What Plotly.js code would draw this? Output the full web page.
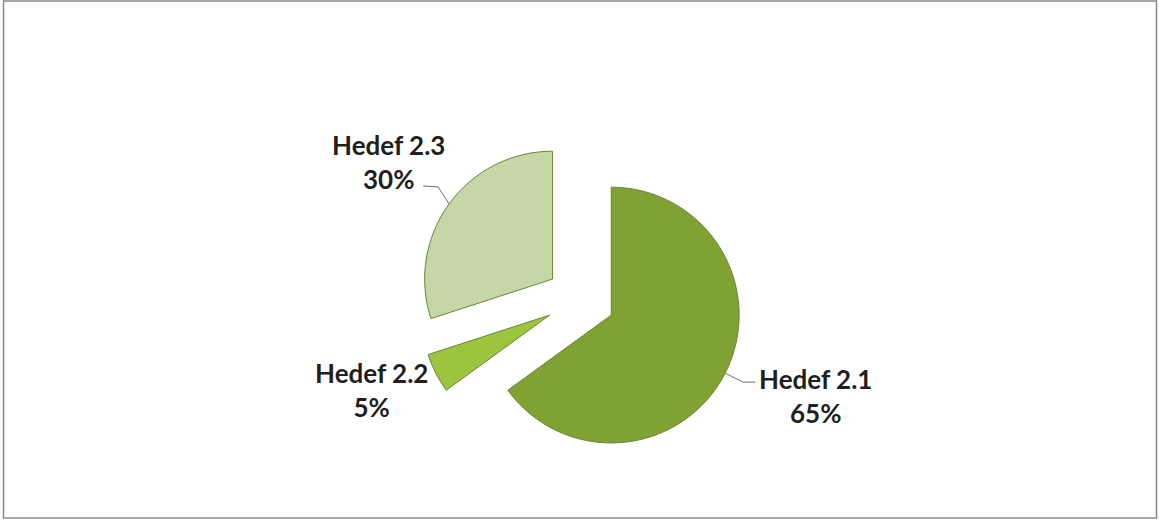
<!DOCTYPE html>
<html>
<head>
<meta charset="utf-8">
<script src="https://cdn.plot.ly/plotly-3.0.1.min.js"></script>
<style>
html,body{margin:0;padding:0;background:#fff;}
#chart{width:1159px;height:522px;}
</style>
</head>
<body>
<div id="chart"></div>
<script>
var labels = ["Hedef 2.1", "Hedef 2.2", "Hedef 2.3"];
var values = [65, 5, 30];
var colors = ["#7fa233", "#9cc43e", "#c5d7a6"];
var pulls = [0.27, 0.27, 0.27];

// label placement style (pixel offsets from each slice's outer-arc midpoint)
var labelStyle = [
  {xanchor: "left",  dx: 32, dy: 23,  leader: [[18, 9], [30, 9]]},
  {xanchor: "right", dx: -6, dy: 17,  leader: null},
  {xanchor: "right", dx: -2, dy: -42, leader: [[-11, -17], [-26, -18]]}
];

var W = 1159, H = 522;
var frame = {
  type: "rect", xref: "paper", yref: "paper",
  x0: 3.5/W, x1: 1156.5/W, y0: 4/H, y1: 521/H,
  line: {color: "#8a8a8a", width: 1.5}
};

var trace = {
  type: "pie",
  labels: labels,
  values: values,
  sort: false,
  direction: "clockwise",
  rotation: 0,
  pull: pulls,
  marker: {colors: colors, line: {color: "#6b8636", width: 1}},
  textinfo: "none",
  hoverinfo: "label+percent",
  showlegend: false,
  domain: {x: [0.3607, 0.641], y: [0.1151, 0.7378]}
};

var layout = {
  width: W,
  height: H,
  margin: {l: 0, r: 0, t: 0, b: 0},
  paper_bgcolor: "#ffffff",
  showlegend: false,
  shapes: [frame]
};

function toPaperPath(x, y, pts) {
  var s = "M" + (x / W) + "," + (1 - y / H);
  pts.forEach(function (o) { s += " L" + ((x + o[0]) / W) + "," + (1 - (y + o[1]) / H); });
  return s;
}

var gd = document.getElementById("chart");
Plotly.newPlot(gd, [trace], layout, {displayModeBar: false, staticPlot: true}).then(function () {
  var cd = gd.calcdata[0];
  var cd0 = cd[0];
  var total = values.reduce(function (a, b) { return a + b; }, 0);
  var annotations = [];
  var shapes = [frame];
  cd.forEach(function (pt) {
    var i = pt.i;
    var pull = pulls[i];
    var ax = cd0.cx + pt.pxmid[0] * (1 + pull);
    var ay = cd0.cy + pt.pxmid[1] * (1 + pull);
    var st = labelStyle[i];
    var pct = Math.round(100 * values[i] / total) + "%";
    annotations.push({
      xref: "paper", yref: "paper",
      x: (ax + st.dx) / W, y: 1 - (ay + st.dy) / H,
      xanchor: st.xanchor, yanchor: "middle", align: "center",
      showarrow: false,
      text: "<b>" + labels[i] + "</b><br><b>" + pct + "</b>",
      font: {family: "Lato, 'Open Sans', sans-serif", size: 26, color: "#1f1f1f"}
    });
    if (st.leader) {
      shapes.push({type: "path", xref: "paper", yref: "paper", path: toPaperPath(ax, ay, st.leader),
        line: {color: "#707070", width: 1}});
    }
  });
  return Plotly.relayout(gd, {annotations: annotations, shapes: shapes});
});
</script>
</body>
</html>
